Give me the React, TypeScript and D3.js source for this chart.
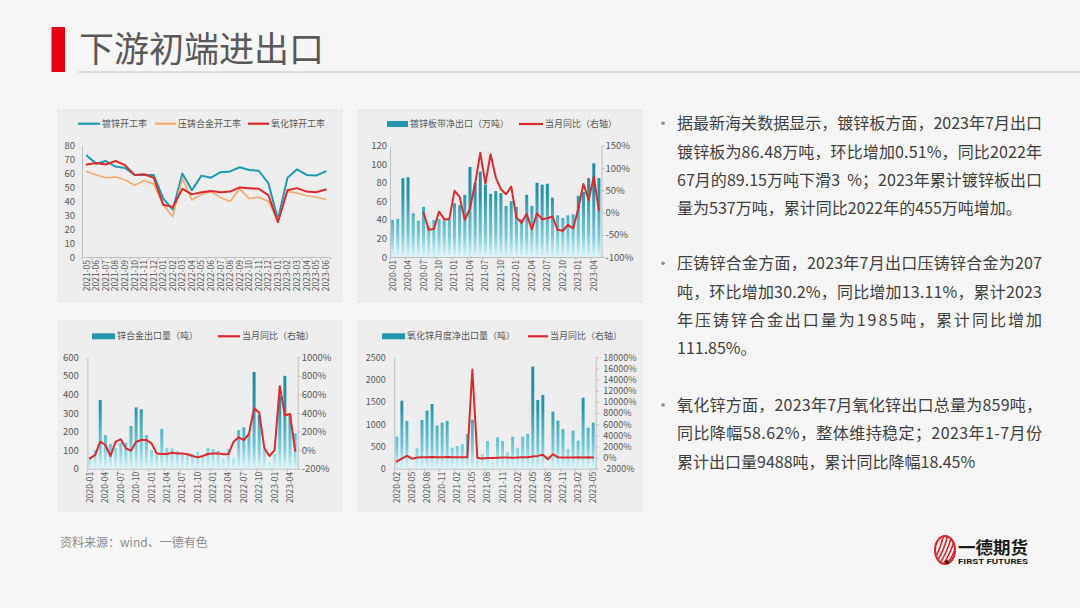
import React, { useEffect, useRef } from "react";
import * as d3 from "d3";

// ---------- data ----------
const rateMonths = [
  "2021-05", "2021-06", "2021-07", "2021-08", "2021-09", "2021-10", "2021-11", "2021-12",
  "2022-01", "2022-02", "2022-03", "2022-04", "2022-05", "2022-06", "2022-07", "2022-08",
  "2022-09", "2022-10", "2022-11", "2022-12", "2023-01", "2023-02", "2023-03", "2023-04",
  "2023-05", "2023-06",
];
const galvRate = [73, 67, 69, 65, 64, 59, 59, 59, 42, 34, 60, 48, 58.5, 57, 61, 61.5, 64.5, 62.5, 62, 53, 27, 57, 63, 59, 58.5, 61.5];
const dieCastRate = [61.5, 59, 57, 57.5, 55.5, 51.5, 55, 52.5, 37.5, 29, 56.5, 41, 45, 47, 42.5, 40, 49, 42, 43, 40, 26, 47, 46, 44, 43, 41.5];
const zincOxideRate = [66.5, 67.5, 66.5, 69, 66, 59, 59.5, 57, 37.5, 36, 49, 45, 46.5, 47.5, 46.5, 47, 50, 49.5, 49, 44.5, 25, 48, 49.5, 47, 46.5, 48.5];

// 镀锌板带净出口（万吨）, 2020-01 .. 2023-05
const galvExport = [40, 41, 85, 86, 47, 39, 54, 33, 40, 41, 40, 40, 58, 56, 67, 97, 80, 92, 78, 68, 71, 69, 55, 60, 54, 41, 67, 55, 80, 78, 79, 64, 45, 42, 45, 46, 66, 70, 85, 101, 85];
const galvYoY = [null, null, null, null, null, null, 0, -39, -37, 2, -15, -15, 49, 35, -17, 9, 65, 134, 65, 131, 79, 52, 41, 58, -11, -23, -3, -38, -2, -15, -13, -9, -39, -41, -28, -36, 9, 64, 28, 80, 5];
const galvTicks = ["2020-01", "2020-04", "2020-07", "2020-10", "2021-01", "2021-04", "2021-07", "2021-10", "2022-01", "2022-04", "2022-07", "2022-10", "2023-01", "2023-04"];

// 锌合金出口量（吨）, 2020-01 .. 2023-05
const alloyExport = [55, 100, 370, 181, 133, 110, 140, 140, 230, 330, 320, 181, 100, 74, 214, 110, 110, 95, 88, 85, 80, 90, 62, 113, 106, 97, 54, 106, 54, 208, 223, 181, 521, 290, 100, 36, 80, 390, 500, 290, 190];
const alloyYoY = [-89, -53, 91, 55, -63, 91, 116, 19, -6, 91, 109, 109, 73, -35, -42, -42, -28, -35, -35, -45, -63, -78, -63, -42, -35, -35, -45, -42, 91, 138, 109, 174, 450, 404, 19, -63, 1, 691, 375, 389, -6];
const alloyTicks = galvTicks;

// 氧化锌月度净出口量（吨）, 2020-02 .. 2023-05
const oxideExport = [720, 1527, 1070, 20, 457, 1093, 1302, 1452, 966, 1033, 1070, 472, 509, 546, 778, 1100, 200, 322, 621, 157, 703, 621, 367, 718, 457, 718, 778, 2290, 1542, 1654, 30, 1280, 1078, 890, 441, 853, 629, 1594, 920, 1033];
const oxideYoY = [-700, -200, 300, -200, 0, 50, 50, 100, 50, 50, 100, 50, 50, 50, 50, 15800, -100, -150, -100, -100, -50, 0, 0, -50, 0, 50, 50, 200, 300, 500, -300, 600, 50, 0, 0, 0, 50, 0, 50, 0];
const oxideTicks = ["2020-02", "2020-05", "2020-08", "2020-11", "2021-02", "2021-05", "2021-08", "2021-11", "2022-02", "2022-05", "2022-08", "2022-11", "2023-02", "2023-05"];

const para1 = [
  "据最新海关数据显示，镀锌板方面，2023年7月出口",
  "镀锌板为86.48万吨，环比增加0.51%，同比2022年",
  "67月的89.15万吨下滑3  %；2023年累计镀锌板出口",
  "量为537万吨，累计同比2022年的455万吨增加。",
];
const para2 = [
  "压铸锌合金方面，2023年7月出口压铸锌合金为207",
  "吨，环比增加30.2%，同比增加13.11%，累计2023",
  "年压铸锌合金出口量为1985吨，累计同比增加",
  "111.85%。",
];
const para3 = [
  "氧化锌方面，2023年7月氧化锌出口总量为859吨，",
  "同比降幅58.62%，整体维持稳定；2023年1-7月份",
  "累计出口量9488吨，累计同比降幅18.45%",
];

// ---------- style ----------
const FONT = "'Noto Sans CJK SC', 'Noto Sans', sans-serif";
const AXIS = "#bfbfbf";
const TXT = "#595959";
const TEAL = "#1f9bb0";
const ORANGE = "#f3aa6e";
const RED = "#dc2a2f";

const parseMonth = d3.timeParse("%Y-%m");
const fmtMonth = d3.timeFormat("%Y-%m");
const monthSpan = (start: string, n: number) =>
  d3.range(n).map((i) => fmtMonth(d3.timeMonth.offset(parseMonth(start)!, i)));

const pct = (v: d3.NumberValue) => `${v}%`;
const num = (v: d3.NumberValue) => `${v}`;

interface AxisSpec {
  domain: [number, number];
  ticks: number[];
  fmt: (v: d3.NumberValue) => string;
  tickSize: number;
  pad: number;
}

interface LineSpec {
  values: (number | null)[];
  color: string;
  width: number;
  right?: boolean;
}

interface LegendItem {
  kind: "bar" | "line";
  color: string;
  x0: number;
  x1: number;
  label: string;
}

interface ChartProps {
  id: string;
  panel: { x: number; y: number; w: number; h: number };
  plot: { l: number; r: number; t: number; b: number };
  cats: string[];
  tickLabels: string[];
  tickEvery: number;
  bars?: number[];
  lines: LineSpec[];
  left: AxisSpec;
  right?: AxisSpec;
  legendY: number;
  legend: LegendItem[];
  yFont: number;
}

function YAxis({ scale, spec, side, x, size }: { scale: d3.ScaleLinear<number, number>; spec: AxisSpec; side: "left" | "right"; x: number; size: number }) {
  const ref = useRef<SVGGElement | null>(null);
  useEffect(() => {
    if (!ref.current) return;
    const ax = (side === "left" ? d3.axisLeft(scale) : d3.axisRight(scale))
      .tickValues(spec.ticks)
      .tickFormat(spec.fmt)
      .tickSize(spec.tickSize)
      .tickSizeOuter(0)
      .tickPadding(spec.pad);
    const g = d3.select(ref.current);
    g.selectAll("*").remove();
    g.call(ax);
    g.attr("font-family", FONT).attr("font-size", size);
    g.select(".domain").attr("stroke", AXIS);
    g.selectAll(".tick line").attr("stroke", AXIS);
    g.selectAll(".tick text").attr("fill", TXT);
  });
  return <g ref={ref} transform={`translate(${x},0)`} />;
}

function XAxis({ scale, labels, y }: { scale: d3.ScaleBand<string>; labels: string[]; y: number }) {
  const ref = useRef<SVGGElement | null>(null);
  useEffect(() => {
    if (!ref.current) return;
    const g = d3.select(ref.current);
    g.selectAll("*").remove();
    g.call(d3.axisBottom(scale).tickValues(labels).tickSize(0).tickSizeOuter(0));
    g.attr("font-family", FONT).attr("font-size", 8.5);
    g.select(".domain").attr("stroke", AXIS);
    g.selectAll(".tick text")
      .attr("fill", TXT)
      .attr("transform", "rotate(-90)")
      .attr("text-anchor", "end")
      .attr("x", -3)
      .attr("y", 0)
      .attr("dy", "0.35em");
  });
  return <g ref={ref} transform={`translate(0,${y})`} />;
}

function ComboChart(p: ChartProps) {
  const { plot } = p;
  const x = d3.scaleBand<string>().domain(p.cats).range([plot.l, plot.r]).paddingInner(0.42).paddingOuter(0.21);
  const yL = d3.scaleLinear().domain(p.left.domain).range([plot.b, plot.t]);
  const yR = p.right ? d3.scaleLinear().domain(p.right.domain).range([plot.b, plot.t]) : yL;
  const bw = x.bandwidth();
  const step = x.step();
  const cx = (i: number) => x(p.cats[i])! + bw / 2;

  const tickIdx = d3.range(0, p.cats.length + 1, p.tickEvery);

  return (
    <g>
      <rect x={p.panel.x} y={p.panel.y} width={p.panel.w} height={p.panel.h} fill="#ededed" />
      <defs>
        <linearGradient id={`grad-${p.id}`} gradientUnits="userSpaceOnUse" x1={0} x2={0} y1={plot.t} y2={plot.b}>
          <stop offset="0" stopColor="#1a8699" />
          <stop offset="0.45" stopColor="#2597ac" />
          <stop offset="0.8" stopColor="#6fcbdb" />
          <stop offset="1" stopColor="#d2f5fa" />
        </linearGradient>
      </defs>

      {p.bars && p.bars.map((v, i) => (
        <rect key={i} x={x(p.cats[i])} y={yL(v)} width={bw} height={yL(0) - yL(v)} fill={`url(#grad-${p.id})`} />
      ))}

      <XAxis scale={x} labels={p.tickLabels} y={plot.b} />
      {tickIdx.map((i) => (
        <line key={i} x1={plot.l + i * step} x2={plot.l + i * step} y1={plot.b} y2={plot.b + 3} stroke={AXIS} />
      ))}
      <YAxis scale={yL} spec={p.left} side="left" x={plot.l} size={p.yFont} />
      {p.right && <YAxis scale={yR} spec={p.right} side="right" x={plot.r} size={p.yFont} />}

      {p.lines.map((ls, k) => {
        const ys = ls.right ? yR : yL;
        const gen = d3
          .line<number | null>()
          .defined((v) => v != null)
          .x((_, i) => cx(i))
          .y((v) => ys(v as number));
        return <path key={k} d={gen(ls.values) ?? ""} fill="none" stroke={ls.color} strokeWidth={ls.width} strokeLinejoin="round" strokeLinecap="round" />;
      })}

      {p.legend.map((it, k) => (
        <g key={k}>
          {it.kind === "bar" ? (
            <rect x={it.x0} y={p.legendY - 3} width={it.x1 - it.x0} height={6} fill="#2596ab" />
          ) : (
            <line x1={it.x0} x2={it.x1} y1={p.legendY} y2={p.legendY} stroke={it.color} strokeWidth={2.2} />
          )}
          <text x={it.x1 + 2} y={p.legendY} dy="0.35em" fontSize={9} fill={TXT} fontFamily={FONT}>
            {it.label}
          </text>
        </g>
      ))}
    </g>
  );
}

function Paragraph({ lines, y0 }: { lines: string[]; y0: number }) {
  const lh = 28.33;
  return (
    <g fontFamily={FONT} fontSize={16} fill="#404040">
      <circle cx={663} cy={y0 - 6} r={1.8} fill="#8a8a8a" />
      {lines.map((t, i) => (
        <text
          key={i}
          x={677}
          y={y0 + i * lh}
          style={{ whiteSpace: "pre" }}
          {...(i < lines.length - 1 ? { textLength: 365, lengthAdjust: "spacing" } : {})}
        >
          {t}
        </text>
      ))}
    </g>
  );
}

function Logo() {
  const stripes = d3.range(6);
  return (
    <g>
      <defs>
        <clipPath id="logo-clip">
          <ellipse cx={945} cy={550} rx={10} ry={14} />
        </clipPath>
      </defs>
      <ellipse cx={945} cy={550} rx={10} ry={14} fill="none" stroke="#e0242b" strokeWidth={2} />
      <g clipPath="url(#logo-clip)">
        {stripes.map((i) => (
          <path key={i} d={`M${930 + i * 4},${566} Q${940 + i * 4},${552} ${944 + i * 4},${534}`} fill="none" stroke="#e0242b" strokeWidth={1.6} />
        ))}
      </g>
      <circle cx={947} cy={562} r={2} fill="#222" />
      <text x={958} y={554} fontSize={17} fontWeight={700} fill="#1a1a1a" fontFamily={FONT} textLength={70} lengthAdjust="spacingAndGlyphs">
        一德期货
      </text>
      <text x={958} y={564} fontSize={7} fontWeight={700} fill="#1a1a1a" fontFamily="'Roboto', sans-serif" textLength={70} lengthAdjust="spacingAndGlyphs">
        FIRST FUTURES
      </text>
    </g>
  );
}

export default function App() {
  const galvCats = monthSpan("2020-01", galvExport.length);
  const alloyCats = monthSpan("2020-01", alloyExport.length);
  const oxideCats = monthSpan("2020-02", oxideExport.length);

  return (
    <svg width={1080} height={608} style={{ position: "fixed", left: 0, top: 0, background: "#f6f6f6" }} fontFamily={FONT}>
      <rect x={0} y={0} width={1080} height={608} fill="#f6f6f6" />

      {/* title */}
      <rect x={51.5} y={27} width={13.5} height={45} fill="#e60012" />
      <text x={79} y={62} fontSize={35} fill="#595959" fontFamily={FONT}>
        下游初端进出口
      </text>
      <line x1={78} x2={1080} y1={72} y2={72} stroke="#d6d6d6" strokeWidth={1.5} />

      <ComboChart
        id="c1"
        panel={{ x: 57, y: 109, w: 286, h: 194 }}
        plot={{ l: 82, r: 330.5, t: 145.7, b: 257 }}
        cats={rateMonths}
        tickLabels={rateMonths}
        tickEvery={1}
        lines={[
          { values: galvRate, color: TEAL, width: 2 },
          { values: dieCastRate, color: ORANGE, width: 1.6 },
          { values: zincOxideRate, color: RED, width: 2 },
        ]}
        left={{ domain: [0, 80], ticks: d3.range(0, 81, 10), fmt: num, tickSize: 0, pad: 7 }}
        legendY={123.7}
        legend={[
          { kind: "line", color: TEAL, x0: 78, x1: 100, label: "镀锌开工率" },
          { kind: "line", color: ORANGE, x0: 155, x1: 176, label: "压铸合金开工率" },
          { kind: "line", color: RED, x0: 248, x1: 269, label: "氧化锌开工率" },
        ]}
        yFont={9.5}
      />

      <ComboChart
        id="c2"
        panel={{ x: 357, y: 109, w: 286, h: 194 }}
        plot={{ l: 390, r: 601.5, t: 145.7, b: 257 }}
        cats={galvCats}
        tickLabels={galvTicks}
        tickEvery={3}
        bars={galvExport}
        lines={[{ values: galvYoY, color: RED, width: 2, right: true }]}
        left={{ domain: [0, 120], ticks: d3.range(0, 121, 20), fmt: num, tickSize: 0, pad: 3 }}
        right={{ domain: [-100, 150], ticks: d3.range(-100, 151, 50), fmt: pct, tickSize: 3, pad: 1 }}
        legendY={124}
        legend={[
          { kind: "bar", color: TEAL, x0: 387, x1: 408, label: "镀锌板带净出口（万吨）" },
          { kind: "line", color: RED, x0: 519, x1: 543, label: "当月同比（右轴）" },
        ]}
        yFont={9.5}
      />

      <ComboChart
        id="c3"
        panel={{ x: 57, y: 320, w: 286, h: 192 }}
        plot={{ l: 87.4, r: 297.7, t: 357.3, b: 468.7 }}
        cats={alloyCats}
        tickLabels={alloyTicks}
        tickEvery={3}
        bars={alloyExport}
        lines={[{ values: alloyYoY, color: RED, width: 2, right: true }]}
        left={{ domain: [0, 600], ticks: d3.range(0, 601, 100), fmt: num, tickSize: 0, pad: 8.5 }}
        right={{ domain: [-200, 1000], ticks: d3.range(-200, 1001, 200), fmt: pct, tickSize: 3, pad: 1 }}
        legendY={336.3}
        legend={[
          { kind: "bar", color: TEAL, x0: 92, x1: 115, label: "锌合金出口量（吨）" },
          { kind: "line", color: RED, x0: 218, x1: 240, label: "当月同比（右轴）" },
        ]}
        yFont={9.5}
      />

      <ComboChart
        id="c4"
        panel={{ x: 357, y: 320, w: 286, h: 192 }}
        plot={{ l: 394.3, r: 595.7, t: 357.3, b: 468.7 }}
        cats={oxideCats}
        tickLabels={oxideTicks}
        tickEvery={3}
        bars={oxideExport}
        lines={[{ values: oxideYoY, color: RED, width: 2, right: true }]}
        left={{ domain: [0, 2500], ticks: d3.range(0, 2501, 500), fmt: num, tickSize: 0, pad: 8.5 }}
        right={{ domain: [-2000, 18000], ticks: d3.range(-2000, 18001, 2000), fmt: pct, tickSize: 3, pad: 4.5 }}
        legendY={336.3}
        legend={[
          { kind: "bar", color: TEAL, x0: 382, x1: 405, label: "氧化锌月度净出口量（吨）" },
          { kind: "line", color: RED, x0: 528, x1: 548, label: "当月同比（右轴）" },
        ]}
        yFont={9}
      />

      <Paragraph lines={para1} y0={129.3} />
      <Paragraph lines={para2} y0={269.3} />
      <Paragraph lines={para3} y0={411} />

      <text x={60} y={547} fontSize={12} fill="#8c8c8c" fontFamily={FONT}>
        资料来源：wind、一德有色
      </text>

      <Logo />
    </svg>
  );
}
